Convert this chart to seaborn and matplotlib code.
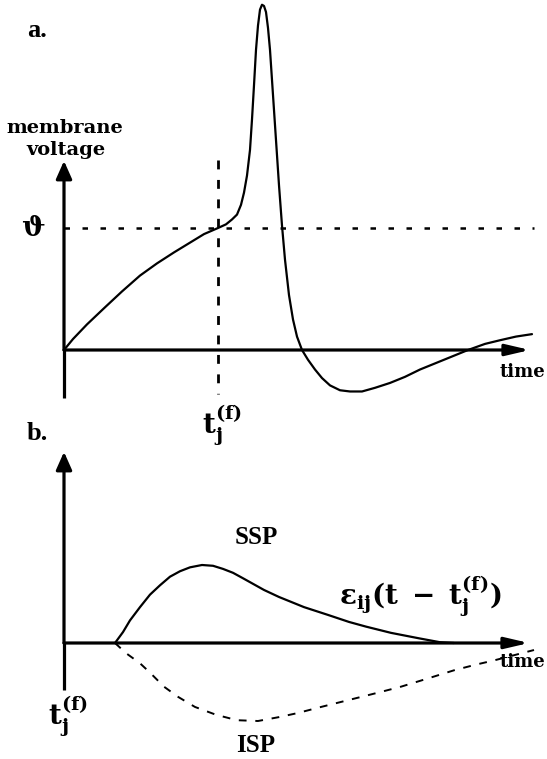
import matplotlib
matplotlib.use("Agg")
import matplotlib.pyplot as plt
import seaborn as sns
import pandas as pd

# ---- panel a: membrane potential of neuron j around a spike (threshold = 1) ----
spike_t = [0, 0.9, 2.3, 4.1, 5.8, 7.6, 9.3, 11.0, 12.6, 14.0, 15.4,
           16.2, 16.8, 17.3, 17.7, 18.0, 18.3, 18.6, 18.8, 19.0, 19.2, 19.4,
           19.6, 19.8, 20.0, 20.2, 20.4, 20.6, 20.9, 21.2, 21.5, 21.8, 22.1,
           22.5, 22.9, 23.3, 23.8, 24.4, 25.1, 25.8, 26.6, 27.6, 28.6, 29.8,
           31.1, 32.6, 34.1, 35.6, 37.1, 38.6, 40.4, 42.1, 43.6, 45.2, 46.8]
spike_v = [0, 0.09, 0.21, 0.35, 0.48, 0.61, 0.71, 0.80, 0.88, 0.95, 1.00,
           1.03, 1.07, 1.11, 1.19, 1.29, 1.43, 1.64, 1.89, 2.17, 2.46, 2.66,
           2.79, 2.83, 2.82, 2.77, 2.64, 2.46, 2.09, 1.72, 1.35, 1.02, 0.74,
           0.45, 0.25, 0.11, 0.0, -0.08, -0.16, -0.23, -0.29, -0.33, -0.34, -0.34,
           -0.31, -0.27, -0.22, -0.16, -0.11, -0.06, 0.0, 0.05, 0.08, 0.11, 0.13]
THETA = 1.0
T_FIRE = 15.4

# ---- panel b: postsynaptic potentials after a presynaptic spike ----
ssp_t = [5.1, 5.9, 6.6, 7.6, 8.6, 9.6, 10.6, 11.6, 12.6, 13.8, 14.9, 15.9,
         16.9, 17.9, 18.6, 20.0, 21.5, 24.0, 26.4, 28.5, 30.2, 32.7, 35.5,
         37.6, 39.0]
ssp_v = [0, 0.14, 0.29, 0.46, 0.62, 0.74, 0.85, 0.92, 0.97, 1.00, 0.99, 0.95,
         0.90, 0.83, 0.78, 0.68, 0.59, 0.46, 0.36, 0.27, 0.21, 0.13, 0.06,
         0.01, 0.0]
isp_t = [5.1, 6.2, 7.6, 8.6, 10.0, 11.4, 13.1, 15.2, 17.3, 19.4, 21.5, 23.3,
         25.7, 28.5, 31.3, 33.7, 36.5, 39.0, 41.1, 43.1, 47.0]
isp_v = [0, -0.13, -0.26, -0.38, -0.56, -0.69, -0.82, -0.92, -0.99, -1.00,
         -0.95, -0.90, -0.82, -0.73, -0.64, -0.56, -0.45, -0.35, -0.28, -0.22,
         -0.09]

sns.set_theme(style="white")
plt.rcParams["font.family"] = ["DejaVu Serif", "DejaVu Sans"]
plt.rcParams["mathtext.fontset"] = "dejavuserif"
plt.rcParams["text.color"] = "black"
plt.rcParams["lines.solid_joinstyle"] = "round"
plt.rcParams["lines.solid_capstyle"] = "round"

W, H = 547, 759
fig = plt.figure(figsize=(W / 100, H / 100), dpi=100)
fig.patch.set_facecolor("white")


def fig_xy(px, py):
    return px / W, 1 - py / H


# axes placed so that the time axis starts 64 px from the left edge, 10 px per unit
XLIM = (-6.4, (W - 64) / 10)
ax_a = fig.add_axes([0, 1 - 400 / H, 1, 400 / H])
ax_a.set_xlim(*XLIM)
ax_a.set_ylim(-50 / 122, 350 / 122)
ax_b = fig.add_axes([0, 0, 1, 359 / H])
ax_b.set_xlim(*XLIM)
ax_b.set_ylim(-116 / 78, 243 / 78)
for ax in (ax_a, ax_b):
    ax.axis("off")

AX_LW = 2.3
CURVE_LW = 1.6


def axis_arrow(ax, x0, y0, x1, y1, hl, hw):
    ax.annotate("", xy=(x1, y1), xytext=(x0, y0),
                arrowprops=dict(arrowstyle=f"-|>,head_length={hl},head_width={hw}",
                                lw=AX_LW, color="black", shrinkA=0, shrinkB=0,
                                mutation_scale=12))


# panel a
df_a = pd.DataFrame({"t": spike_t, "v": spike_v})
sns.lineplot(data=df_a, x="t", y="v", ax=ax_a, sort=False, estimator=None,
             color="black", lw=CURVE_LW)
ax_a.plot([0, 47.0], [THETA, THETA], color="black", lw=1.8,
          linestyle=(0, (2.2, 5.0)), dash_capstyle="butt")
ax_a.plot([T_FIRE, T_FIRE], [1.56, -0.36], color="black", lw=2.0,
          linestyle=(0, (3.2, 3.8)), dash_capstyle="butt")
ax_a.plot([0, 0], [-0.39, 0.0], color="black", lw=AX_LW, solid_capstyle="butt")
axis_arrow(ax_a, 0, 0, 0, 1.55, 0.9, 0.4)
axis_arrow(ax_a, 0, 0, 46.6, 0, 1.2, 0.28)

# panel b
df_b = pd.DataFrame({"t": ssp_t, "v": ssp_v})
sns.lineplot(data=df_b, x="t", y="v", ax=ax_b, sort=False, estimator=None,
             color="black", lw=CURVE_LW)
df_i = pd.DataFrame({"t": isp_t, "v": isp_v})
sns.lineplot(data=df_i, x="t", y="v", ax=ax_b, sort=False, estimator=None,
             color="black", lw=1.4)
ax_b.lines[-1].set_linestyle((0, (4.0, 4.5)))
ax_b.plot([0, 0], [-0.60, 0.0], color="black", lw=AX_LW, solid_capstyle="butt")
axis_arrow(ax_b, 0, 0, 0, 2.45, 0.9, 0.4)
axis_arrow(ax_b, 0, 0, 46.5, 0, 1.2, 0.28)

# text
bold = dict(fontweight="bold", color="black")
fig.text(*fig_xy(27, 37), "a.", fontsize=19, ha="left", va="baseline",
         family="Liberation Serif", **bold)
fig.text(*fig_xy(27, 440), "b.", fontsize=19, ha="left", va="baseline",
         family="Liberation Serif", **bold)
fig.text(*fig_xy(65, 128), "membrane", fontsize=14, ha="center", va="center", **bold)
fig.text(*fig_xy(66, 150), "voltage", fontsize=14, ha="center", va="center", **bold)
fig.text(*fig_xy(33, 229), r"$\boldsymbol{\vartheta}$", fontsize=20,
         ha="center", va="center", color="black")
fig.text(*fig_xy(522, 372), "time", fontsize=13, ha="center", va="center", **bold)
fig.text(*fig_xy(522, 662), "time", fontsize=13, ha="center", va="center", **bold)

tjf = r"$\mathbf{t}_{\mathbf{j}}^{\mathbf{(f)}}$"
fig.text(*fig_xy(222, 425), tjf, fontsize=20, ha="center", va="center",
         color="black")
fig.text(*fig_xy(68, 716), tjf, fontsize=20, ha="center", va="center",
         color="black")

fig.text(*fig_xy(256, 538), "SSP", fontsize=18, ha="center", va="center",
         family="Liberation Serif", **bold)
fig.text(*fig_xy(256, 745), "ISP", fontsize=18, ha="center", va="center",
         family="Liberation Serif", **bold)
fig.text(*fig_xy(420, 596),
         r"$\boldsymbol{\varepsilon}_{\mathbf{ij}}\mathbf{(t\ -\ t}_{\mathbf{j}}^{\mathbf{(f)}}\mathbf{)}$",
         fontsize=20, ha="center", va="center", color="black")

fig.savefig("out.png", dpi=100, facecolor="white")
